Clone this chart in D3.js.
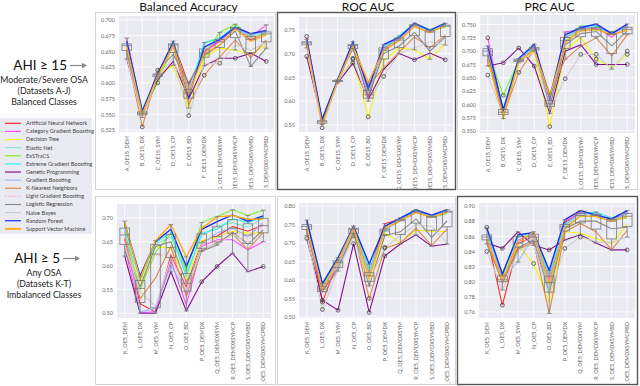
<!DOCTYPE html>
<html>
<head>
<meta charset="utf-8">
<script src="https://cdn.jsdelivr.net/npm/d3@7"></script>
<style>
  body { margin: 0; background: #fff; }
  svg { display: block; font-family: Lato, "Open Sans", sans-serif; }
</style>
</head>
<body>
<svg id="chart" width="640" height="386"></svg>
<script>
const algorithms = ["Artificial Neural Network", "Category Gradient Boosting", "Decision Tree", "Elastic Net",
  "ExSTraCS", "Extreme Gradient Boosting", "Genetic Programming", "Gradient Boosting", "K-Nearest Neighbors",
  "Light Gradient Boosting", "Logistic Regression", "Naive Bayes", "Random Forest", "Support Vector Machine"];
const algoColors = ["#ff2a2a", "#ff4cff", "#f5f500", "#86e6cf", "#7ef02a", "#30f2f2", "#86108a", "#9fb4fb",
  "#e0874a", "#ffb3c6", "#8a8a8a", "#cfcfcf", "#1530f0", "#ffab1a"];

const datasetsOE15 = ["A_OE15_DEM", "B_OE15_DX", "C_OE15_SYM", "D_OE15_CP", "E_OE15_BD", "F_OE15_DEMDX",
  "G_OE15_DEMDXSYM", "H_OE15_DEMDXSYMCP", "I_OE15_DEMDXSYMBD", "J_OE15_DEMDXSYMCPBD"];
const datasetsOE5 = ["K_OE5_DEM", "L_OE5_DX", "M_OE5_SYM", "N_OE5_CP", "O_OE5_BD", "P_OE5_DEMDX",
  "Q_OE5_DEMDXSYM", "R_OE5_DEMDXSYMCP", "S_OE5_DEMDXSYMBD", "T_OE5_DEMDXSYMCPBD"];

const ticksBal15 = [0.525, 0.55, 0.575, 0.6, 0.625, 0.65, 0.675, 0.7];
const ticksRoc15 = [0.55, 0.6, 0.65, 0.7, 0.75];
const ticksPrc15 = [0.55, 0.575, 0.6, 0.625, 0.65, 0.675, 0.7, 0.725, 0.75];
const ticksBal5 = [0.5, 0.55, 0.6, 0.65, 0.7];
const ticksRoc5 = [0.5, 0.55, 0.6, 0.65, 0.7, 0.75, 0.8];
const ticksPrc5 = [0.76, 0.78, 0.8, 0.82, 0.84, 0.86, 0.88, 0.9];

// one row per dataset, one column per algorithm (same order as algorithms)
const balAcc15 = [
  [0.662, 0.671, 0.655, 0.660, 0.658, 0.663, 0.638, 0.661, 0.648, 0.660, 0.650, 0.640, 0.666, 0.657],
  [0.552, 0.553, 0.551, 0.555, 0.553, 0.557, 0.549, 0.554, 0.530, 0.550, 0.548, 0.545, 0.555, 0.550],
  [0.615, 0.613, 0.612, 0.610, 0.600, 0.614, 0.605, 0.612, 0.616, 0.613, 0.620, 0.608, 0.614, 0.611],
  [0.664, 0.662, 0.628, 0.660, 0.661, 0.666, 0.634, 0.660, 0.658, 0.661, 0.645, 0.640, 0.665, 0.659],
  [0.597, 0.590, 0.560, 0.585, 0.588, 0.586, 0.575, 0.583, 0.566, 0.590, 0.600, 0.548, 0.578, 0.582],
  [0.650, 0.648, 0.640, 0.662, 0.645, 0.664, 0.627, 0.655, 0.612, 0.648, 0.643, 0.630, 0.657, 0.646],
  [0.667, 0.666, 0.655, 0.672, 0.680, 0.671, 0.639, 0.668, 0.641, 0.664, 0.660, 0.631, 0.669, 0.660],
  [0.688, 0.687, 0.652, 0.685, 0.693, 0.690, 0.639, 0.686, 0.668, 0.685, 0.682, 0.660, 0.688, 0.686],
  [0.668, 0.672, 0.645, 0.674, 0.672, 0.677, 0.647, 0.676, 0.640, 0.670, 0.626, 0.652, 0.678, 0.666],
  [0.680, 0.692, 0.660, 0.679, 0.677, 0.682, 0.634, 0.681, 0.668, 0.678, 0.655, 0.664, 0.683, 0.676]
];
const rocAuc15 = [
  [0.725, 0.736, 0.715, 0.722, 0.724, 0.726, 0.694, 0.723, 0.718, 0.724, 0.720, 0.712, 0.730, 0.721],
  [0.558, 0.556, 0.553, 0.560, 0.557, 0.561, 0.559, 0.556, 0.552, 0.555, 0.557, 0.544, 0.562, 0.551],
  [0.643, 0.642, 0.640, 0.644, 0.643, 0.645, 0.638, 0.643, 0.641, 0.642, 0.645, 0.639, 0.644, 0.641],
  [0.718, 0.720, 0.688, 0.719, 0.716, 0.722, 0.680, 0.718, 0.712, 0.719, 0.710, 0.690, 0.725, 0.715],
  [0.605, 0.610, 0.567, 0.620, 0.615, 0.623, 0.603, 0.618, 0.632, 0.612, 0.611, 0.600, 0.626, 0.640],
  [0.712, 0.708, 0.685, 0.714, 0.705, 0.716, 0.667, 0.712, 0.670, 0.708, 0.700, 0.652, 0.719, 0.706],
  [0.730, 0.729, 0.712, 0.735, 0.733, 0.737, 0.700, 0.732, 0.703, 0.728, 0.716, 0.700, 0.734, 0.727],
  [0.760, 0.761, 0.708, 0.759, 0.762, 0.763, 0.687, 0.760, 0.735, 0.758, 0.745, 0.712, 0.764, 0.757],
  [0.747, 0.746, 0.688, 0.748, 0.751, 0.750, 0.701, 0.748, 0.712, 0.745, 0.705, 0.725, 0.749, 0.744],
  [0.760, 0.761, 0.722, 0.757, 0.755, 0.762, 0.687, 0.760, 0.739, 0.758, 0.735, 0.718, 0.764, 0.759]
];
const prcAuc15 = [
  [0.705, 0.725, 0.690, 0.700, 0.702, 0.706, 0.672, 0.703, 0.696, 0.700, 0.695, 0.655, 0.710, 0.685],
  [0.585, 0.583, 0.573, 0.590, 0.617, 0.592, 0.678, 0.588, 0.578, 0.585, 0.582, 0.580, 0.590, 0.575],
  [0.684, 0.683, 0.680, 0.685, 0.682, 0.686, 0.706, 0.684, 0.660, 0.682, 0.680, 0.678, 0.686, 0.681],
  [0.705, 0.712, 0.700, 0.707, 0.704, 0.709, 0.672, 0.706, 0.703, 0.706, 0.702, 0.700, 0.713, 0.702],
  [0.598, 0.600, 0.558, 0.605, 0.602, 0.608, 0.583, 0.603, 0.620, 0.598, 0.595, 0.590, 0.612, 0.615],
  [0.725, 0.736, 0.703, 0.722, 0.718, 0.728, 0.700, 0.726, 0.685, 0.722, 0.712, 0.648, 0.731, 0.716],
  [0.742, 0.740, 0.725, 0.745, 0.742, 0.747, 0.712, 0.743, 0.709, 0.740, 0.733, 0.694, 0.744, 0.738],
  [0.743, 0.745, 0.685, 0.744, 0.740, 0.748, 0.675, 0.745, 0.725, 0.742, 0.737, 0.694, 0.751, 0.741],
  [0.733, 0.726, 0.669, 0.735, 0.737, 0.734, 0.675, 0.733, 0.691, 0.732, 0.710, 0.666, 0.733, 0.731],
  [0.744, 0.749, 0.694, 0.742, 0.740, 0.746, 0.675, 0.745, 0.731, 0.743, 0.738, 0.700, 0.751, 0.739]
];
const balAcc5 = [
  [0.655, 0.640, 0.693, 0.668, 0.670, 0.680, 0.620, 0.674, 0.660, 0.650, 0.630, 0.642, 0.688, 0.690],
  [0.520, 0.501, 0.565, 0.570, 0.549, 0.575, 0.500, 0.503, 0.530, 0.560, 0.555, 0.545, 0.578, 0.573],
  [0.502, 0.503, 0.640, 0.645, 0.628, 0.648, 0.500, 0.510, 0.574, 0.620, 0.640, 0.515, 0.650, 0.652],
  [0.622, 0.610, 0.636, 0.660, 0.667, 0.668, 0.587, 0.600, 0.640, 0.625, 0.650, 0.615, 0.676, 0.686],
  [0.555, 0.518, 0.570, 0.585, 0.590, 0.578, 0.505, 0.545, 0.535, 0.560, 0.565, 0.550, 0.598, 0.618],
  [0.650, 0.640, 0.652, 0.662, 0.690, 0.668, 0.566, 0.645, 0.632, 0.642, 0.630, 0.635, 0.676, 0.678],
  [0.662, 0.654, 0.660, 0.683, 0.703, 0.676, 0.598, 0.668, 0.648, 0.658, 0.643, 0.645, 0.692, 0.702],
  [0.682, 0.654, 0.672, 0.690, 0.717, 0.698, 0.626, 0.680, 0.667, 0.676, 0.670, 0.665, 0.706, 0.705],
  [0.672, 0.633, 0.668, 0.680, 0.705, 0.690, 0.587, 0.660, 0.633, 0.655, 0.645, 0.650, 0.693, 0.697],
  [0.685, 0.650, 0.668, 0.700, 0.716, 0.703, 0.598, 0.690, 0.670, 0.682, 0.675, 0.660, 0.704, 0.697]
];
const rocAuc5 = [
  [0.760, 0.745, 0.740, 0.748, 0.750, 0.752, 0.712, 0.748, 0.735, 0.744, 0.730, 0.720, 0.762, 0.742],
  [0.540, 0.570, 0.578, 0.585, 0.582, 0.588, 0.545, 0.580, 0.572, 0.575, 0.568, 0.520, 0.590, 0.575],
  [0.650, 0.645, 0.648, 0.655, 0.650, 0.657, 0.518, 0.640, 0.624, 0.645, 0.632, 0.628, 0.660, 0.652],
  [0.738, 0.742, 0.725, 0.735, 0.720, 0.740, 0.698, 0.738, 0.730, 0.737, 0.728, 0.715, 0.745, 0.741],
  [0.620, 0.610, 0.600, 0.625, 0.615, 0.630, 0.512, 0.618, 0.550, 0.612, 0.584, 0.595, 0.643, 0.605],
  [0.752, 0.738, 0.728, 0.732, 0.735, 0.730, 0.665, 0.736, 0.686, 0.733, 0.720, 0.688, 0.745, 0.740],
  [0.764, 0.762, 0.700, 0.766, 0.760, 0.768, 0.697, 0.763, 0.700, 0.760, 0.730, 0.720, 0.767, 0.760],
  [0.785, 0.787, 0.735, 0.788, 0.784, 0.790, 0.722, 0.786, 0.740, 0.783, 0.765, 0.750, 0.789, 0.782],
  [0.772, 0.770, 0.731, 0.773, 0.768, 0.774, 0.691, 0.771, 0.693, 0.770, 0.715, 0.745, 0.775, 0.769],
  [0.786, 0.787, 0.731, 0.785, 0.780, 0.788, 0.697, 0.786, 0.738, 0.784, 0.760, 0.700, 0.790, 0.783]
];
const prcAuc5 = [
  [0.860, 0.872, 0.855, 0.862, 0.858, 0.864, 0.851, 0.861, 0.856, 0.860, 0.850, 0.840, 0.871, 0.857],
  [0.769, 0.800, 0.803, 0.808, 0.807, 0.810, 0.844, 0.805, 0.798, 0.802, 0.800, 0.789, 0.810, 0.801],
  [0.850, 0.855, 0.848, 0.858, 0.860, 0.861, 0.866, 0.826, 0.843, 0.850, 0.845, 0.840, 0.862, 0.852],
  [0.860, 0.862, 0.824, 0.863, 0.858, 0.864, 0.848, 0.860, 0.852, 0.858, 0.855, 0.850, 0.865, 0.866],
  [0.800, 0.805, 0.773, 0.808, 0.795, 0.810, 0.842, 0.790, 0.758, 0.800, 0.785, 0.782, 0.815, 0.798],
  [0.878, 0.880, 0.866, 0.875, 0.872, 0.876, 0.855, 0.874, 0.866, 0.873, 0.870, 0.844, 0.882, 0.870],
  [0.892, 0.890, 0.864, 0.888, 0.886, 0.890, 0.862, 0.891, 0.877, 0.889, 0.880, 0.859, 0.894, 0.887],
  [0.888, 0.891, 0.857, 0.890, 0.887, 0.892, 0.851, 0.889, 0.866, 0.888, 0.880, 0.853, 0.888, 0.886],
  [0.882, 0.880, 0.850, 0.881, 0.883, 0.884, 0.842, 0.882, 0.842, 0.880, 0.870, 0.852, 0.883, 0.880],
  [0.890, 0.891, 0.876, 0.888, 0.884, 0.893, 0.842, 0.890, 0.868, 0.887, 0.872, 0.859, 0.894, 0.886]
];

const panels = [
  { title: "Balanced Accuracy", values: balAcc15, labels: datasetsOE15, ticks: ticksBal15, fmt: ".3f",
    domain: [0.522, 0.706], frame: [95, 12, 276, 190], plot: [119, 16, 274, 132], dark: false },
  { title: "ROC AUC", values: rocAuc15, labels: datasetsOE15, ticks: ticksRoc15, fmt: ".2f",
    domain: [0.535, 0.777], frame: [277, 12, 456, 190], plot: [299, 17, 453, 132], dark: true },
  { title: "PRC AUC", values: prcAuc15, labels: datasetsOE15, ticks: ticksPrc15, fmt: ".3f",
    domain: [0.546, 0.768], frame: [457, 12, 638, 190], plot: [480, 15, 635, 133], dark: false },
  { title: null, values: balAcc5, labels: datasetsOE5, ticks: ticksBal5, fmt: ".2f",
    domain: [0.49, 0.729], frame: [95, 196, 276, 385], plot: [117, 204, 271, 318], dark: false },
  { title: null, values: rocAuc5, labels: datasetsOE5, ticks: ticksRoc5, fmt: ".2f",
    domain: [0.497, 0.808], frame: [277, 196, 456, 385], plot: [299, 203, 455, 318], dark: false },
  { title: null, values: prcAuc5, labels: datasetsOE5, ticks: ticksPrc5, fmt: ".2f",
    domain: [0.752, 0.904], frame: [457, 196, 638, 385], plot: [479, 203, 635, 318], dark: true }
];

const svg = d3.select("#chart");

function boxStats(vals) {
  const s = vals.slice().sort(d3.ascending);
  const q1 = d3.quantile(s, 0.25), med = d3.quantile(s, 0.5), q3 = d3.quantile(s, 0.75);
  const iqr = q3 - q1;
  const inside = s.filter(v => v >= q1 - 1.5 * iqr && v <= q3 + 1.5 * iqr);
  return { q1, med, q3, lo: d3.min(inside), hi: d3.max(inside),
    outliers: s.filter(v => v < q1 - 1.5 * iqr || v > q3 + 1.5 * iqr) };
}

panels.forEach((p, pi) => {
  const [fx0, fy0, fx1, fy1] = p.frame;
  const [px0, py0, px1, py1] = p.plot;

  svg.append("clipPath").attr("id", "clip" + pi)
    .append("rect").attr("x", fx0).attr("y", fy0).attr("width", fx1 - fx0).attr("height", fy1 - fy0);

  const g = svg.append("g").attr("clip-path", `url(#clip${pi})`);

  const x = d3.scalePoint().domain(p.labels).range([px0, px1]).padding(0.5);
  const y = d3.scaleLinear().domain(p.domain).range([py1, py0]);

  g.append("rect").attr("x", px0).attr("y", py0).attr("width", px1 - px0).attr("height", py1 - py0)
    .attr("fill", "#eaeaf2");

  g.selectAll(".hgrid").data(p.ticks).enter().append("line")
    .attr("x1", px0).attr("x2", px1).attr("y1", d => y(d)).attr("y2", d => y(d))
    .attr("stroke", "#fff").attr("stroke-width", 0.8);
  g.selectAll(".vgrid").data(p.labels).enter().append("line")
    .attr("x1", d => x(d)).attr("x2", d => x(d)).attr("y1", py0).attr("y2", py1)
    .attr("stroke", "#fff").attr("stroke-width", 0.8);

  const yAxis = g.append("g").attr("transform", `translate(${px0},0)`)
    .call(d3.axisLeft(y).tickValues(p.ticks).tickFormat(d3.format(p.fmt)).tickSize(0).tickPadding(4));
  yAxis.select(".domain").remove();
  yAxis.selectAll("text").attr("font-size", 5.5).attr("fill", "#666").style("font-family", "Lato, sans-serif");

  g.selectAll(".xlab").data(p.labels).enter().append("text")
    .attr("transform", d => `translate(${x(d) + 2},${py1 + 4}) rotate(-90)`)
    .attr("text-anchor", "end").attr("font-size", 5.5).attr("fill", "#666")
    .text(d => d);

  // one line per algorithm
  const line = d3.line().x((d, i) => x(p.labels[i])).y(d => y(d));
  algorithms.forEach((a, ai) => {
    const series = p.values.map(row => row[ai]);
    g.append("path").datum(series)
      .attr("d", line).attr("fill", "none")
      .attr("stroke", algoColors[ai])
      .attr("stroke-width", ai === 12 || ai === 13 ? 1.4 : 1.1)
      .attr("stroke-dasharray", ai === 9 ? "1.5,1.5" : null);
  });

  // box plots of all algorithms for each dataset
  const bw = x.step() * 0.62;
  p.labels.forEach((lab, di) => {
    const st = boxStats(p.values[di]);
    const cx = x(lab);
    const bg = g.append("g").attr("stroke", "#7a7a7a").attr("stroke-width", 0.8).attr("fill", "none");
    bg.append("rect").attr("x", cx - bw / 2).attr("y", y(st.q3)).attr("width", bw)
      .attr("height", Math.max(0.5, y(st.q1) - y(st.q3)));
    bg.append("line").attr("x1", cx - bw / 2).attr("x2", cx + bw / 2).attr("y1", y(st.med)).attr("y2", y(st.med));
    bg.append("line").attr("x1", cx).attr("x2", cx).attr("y1", y(st.q3)).attr("y2", y(st.hi));
    bg.append("line").attr("x1", cx).attr("x2", cx).attr("y1", y(st.q1)).attr("y2", y(st.lo));
    bg.append("line").attr("x1", cx - bw / 4).attr("x2", cx + bw / 4).attr("y1", y(st.hi)).attr("y2", y(st.hi));
    bg.append("line").attr("x1", cx - bw / 4).attr("x2", cx + bw / 4).attr("y1", y(st.lo)).attr("y2", y(st.lo));
    bg.selectAll("circle").data(st.outliers).enter().append("circle")
      .attr("cx", cx).attr("cy", d => y(d)).attr("r", 1.9).attr("stroke", "#444");
  });

  svg.append("rect").attr("x", fx0 + 0.5).attr("y", fy0 + 0.5)
    .attr("width", fx1 - fx0 - 1).attr("height", fy1 - fy0 - 1)
    .attr("fill", "none").attr("stroke", p.dark ? "#555" : "#d4d4d4").attr("stroke-width", p.dark ? 1.4 : 1);

  if (p.title) {
    svg.append("text").attr("x", (px0 + px1) / 2 - 8).attr("y", 11)
      .attr("text-anchor", "middle").attr("font-size", 12).attr("fill", "#111").text(p.title);
  }
});

// row descriptions on the left
const rowNotes = [
  { head: "AHI \u2265 15", lines: ["Moderate/Severe OSA", "(Datasets A-J)", "Balanced Classes"], y: 70, arrowX: 70 },
  { head: "AHI \u2265 5", lines: ["Any OSA", "(Datasets K-T)", "Imbalanced Classes"], y: 263, arrowX: 63 }
];
rowNotes.forEach(n => {
  svg.append("text").attr("x", n.arrowX - 3).attr("y", n.y).attr("text-anchor", "end")
    .attr("font-size", 13.5).attr("fill", "#111").text(n.head);
  svg.append("line").attr("x1", n.arrowX).attr("x2", n.arrowX + 14).attr("y1", n.y - 4.5).attr("y2", n.y - 4.5)
    .attr("stroke", "#888").attr("stroke-width", 1.2);
  svg.append("path").attr("d", `M${n.arrowX + 17},${n.y - 4.5} l-5,-2.8 l0,5.6 z`).attr("fill", "#888");
  n.lines.forEach((t, i) => {
    svg.append("text").attr("x", 44).attr("y", n.y + 13 + i * 11).attr("text-anchor", "middle")
      .attr("font-size", 8.8).attr("fill", "#222").text(t);
  });
});

// legend
const legend = svg.append("g");
legend.append("rect").attr("x", 0).attr("y", 118).attr("width", 92).attr("height", 116).attr("fill", "#eaeaf2");
algorithms.forEach((a, i) => {
  const ly = 123.3 + i * 8.12;
  legend.append("line").attr("x1", 5).attr("x2", 21).attr("y1", ly).attr("y2", ly)
    .attr("stroke", algoColors[i]).attr("stroke-width", i === 13 ? 2 : 1.2)
    .attr("stroke-dasharray", i === 9 ? "1.5,1.5" : null);
  legend.append("text").attr("x", 26).attr("y", ly + 1.9).attr("font-size", 5.6).attr("fill", "#444").text(a);
});
</script>
</body>
</html>
